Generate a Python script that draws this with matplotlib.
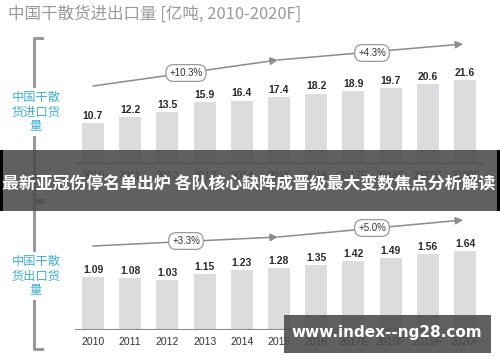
import matplotlib
matplotlib.use("Agg")
import matplotlib.pyplot as plt
from matplotlib.lines import Line2D
from matplotlib.patches import Rectangle

years = ["2010", "2011", "2012", "2013", "2014", "2015", "2016", "2017E", "2018F", "2019F", "2020F"]
imports = [10.7, 12.2, 13.5, 15.9, 16.4, 17.4, 18.2, 18.9, 19.7, 20.6, 21.6]
exports = [1.09, 1.08, 1.03, 1.15, 1.23, 1.28, 1.35, 1.42, 1.49, 1.56, 1.64]
import_labels = ["10.7", "12.2", "13.5", "15.9", "16.4", "17.4", "18.2", "18.9", "19.7", "20.6", "21.6"]
export_labels = ["1.09", "1.08", "1.03", "1.15", "1.23", "1.28", "1.35", "1.42", "1.49", "1.56", "1.64"]
import_growth = ["+10.3%", "+4.3%"]
export_growth = ["+3.3%", "+5.0%"]
title = "中国干散货进出口量 [亿吨, 2010-2020F]"
import_name = "中国干散\n货进口货\n量"
export_name = "中国干散\n货出口货\n量"
banner = "最新亚冠伤停名单出炉 各队核心缺阵成晋级最大变数焦点分析解读"
watermark = "www.index--ng28.com"

W, H = 500, 362
fig = plt.figure(figsize=(W / 100, H / 100), dpi=100)
fig.patch.set_facecolor("white")

CJK = ["Noto Sans CJK SC", "DejaVu Sans"]
BAR_C = "#dcdcdf"
LINE_C = "#8c8c8c"

def px_axes(x0, y0, x1, y1):
    return fig.add_axes([x0 / W, 1 - y1 / H, (x1 - x0) / W, (y1 - y0) / H])

x = list(range(len(years)))
xlim = ((75 - 93) / 37.2, (483 - 93) / 37.2)

def style(ax, vals, labels, ymax):
    ax.set_xlim(*xlim)
    ax.set_ylim(0, ymax)
    bars = ax.bar(x, vals, width=0.59, color=BAR_C, zorder=2)
    ax.bar_label(bars, labels=labels, padding=1.5, fontsize=7.5, color="#2a2a2a",
                 family="Liberation Sans", fontweight="bold")
    for s in ax.spines.values():
        s.set_visible(False)
    ax.axhline(0, color="#8a8a8a", lw=1.5, zorder=3)
    ax.set_yticks([])
    ax.set_xticks(x)
    ax.set_xticklabels(years, fontsize=7.5, color="#333333", family="Liberation Sans")
    ax.tick_params(axis="x", length=0, pad=5)
    ax.patch.set_alpha(0)

def arrows(ax, pts, labels, lpos):
    for (p0, p1) in zip(pts[:-1], pts[1:]):
        ax.annotate("", xy=p1, xytext=p0, xycoords="data",
                    arrowprops=dict(arrowstyle="-|>", color=LINE_C, lw=1.1,
                                    mutation_scale=11, shrinkA=0, shrinkB=0),
                    annotation_clip=False, zorder=4)
    for t, (lx, ly) in zip(labels, lpos):
        ax.text(lx, ly, t, ha="center", va="center", fontsize=7, color="#333333",
                family="Liberation Sans", zorder=5,
                bbox=dict(boxstyle="round,pad=0.35,rounding_size=0.8", fc="white",
                          ec="#9a9a9a", lw=0.9))

# Top panel (imports)
kt = 3.87
ax1 = px_axes(75, 30, 483, 164)
style(ax1, imports, import_labels, 134 / kt)
arrows(ax1, [(0, (164 - 86) / kt), (4.97, (164 - 60) / kt), (9.95, (164 - 44) / kt)],
       import_growth, [(2.5, (164 - 73) / kt), (7.5, (164 - 53) / kt)])

# Bottom panel (exports)
kb = 48.4
ax2 = px_axes(75, 200, 483, 330)
style(ax2, exports, export_labels, 130 / kb)
arrows(ax2, [(0, (330 - 246) / kb), (4.97, (330 - 237) / kb), (9.95, (330 - 220) / kb)],
       export_growth, [(2.5, (330 - 241) / kb), (7.5, (330 - 228) / kb)])

def fx(v):
    return v / W

def fy(v):
    return 1 - v / H

# Brackets
for (ytop, ybot) in [(38, 200), (202, 349)]:
    fig.add_artist(Line2D([fx(42), fx(34), fx(34), fx(42)],
                          [fy(ytop), fy(ytop), fy(ybot), fy(ybot)],
                          color="#9a9a9e", lw=2.2, zorder=1))

fig.text(fx(36), fy(112), import_name, ha="center", va="center", fontsize=8.8,
         color="#3cb0d8", family=CJK, fontweight="medium", linespacing=1.12, zorder=3,
         bbox=dict(boxstyle="square,pad=0.25", fc="white", ec="none"))
fig.text(fx(36), fy(276), export_name, ha="center", va="center", fontsize=8.8,
         color="#3cb0d8", family=CJK, fontweight="medium", linespacing=1.12, zorder=3,
         bbox=dict(boxstyle="square,pad=0.25", fc="white", ec="none"))

# Title
fig.text(fx(8), fy(14), title, ha="left", va="center", fontsize=11.9,
         color="#9a9a9a", family=CJK)

# Banner overlay
fig.add_artist(Rectangle((0, fy(211)), 1, 61 / H, transform=fig.transFigure,
                         fc="#4a4a4a", ec="none", alpha=0.88, zorder=10))
fig.add_artist(Rectangle((0, fy(211)), fx(2.5), 61 / H, transform=fig.transFigure,
                         fc="black", ec="none", zorder=11))
fig.add_artist(Rectangle((fx(497), fy(211)), fx(3), 61 / H, transform=fig.transFigure,
                         fc="black", ec="none", zorder=11))
fig.text(fx(249), fy(184), banner, ha="center", va="center", fontsize=12.2,
         color="white", fontweight="bold", family=CJK, zorder=12)

# Watermark
fig.add_artist(Rectangle((fx(284), fy(353)), fx(207), 38 / H, transform=fig.transFigure,
                         fc="#4a4a4a", ec="none", alpha=0.88, zorder=10))
fig.text(fx(387), fy(333), watermark, ha="center", va="center", fontsize=11,
         color="white", fontweight="bold", family="DejaVu Sans", zorder=12)

fig.savefig("out.png", dpi=100, facecolor="white")
